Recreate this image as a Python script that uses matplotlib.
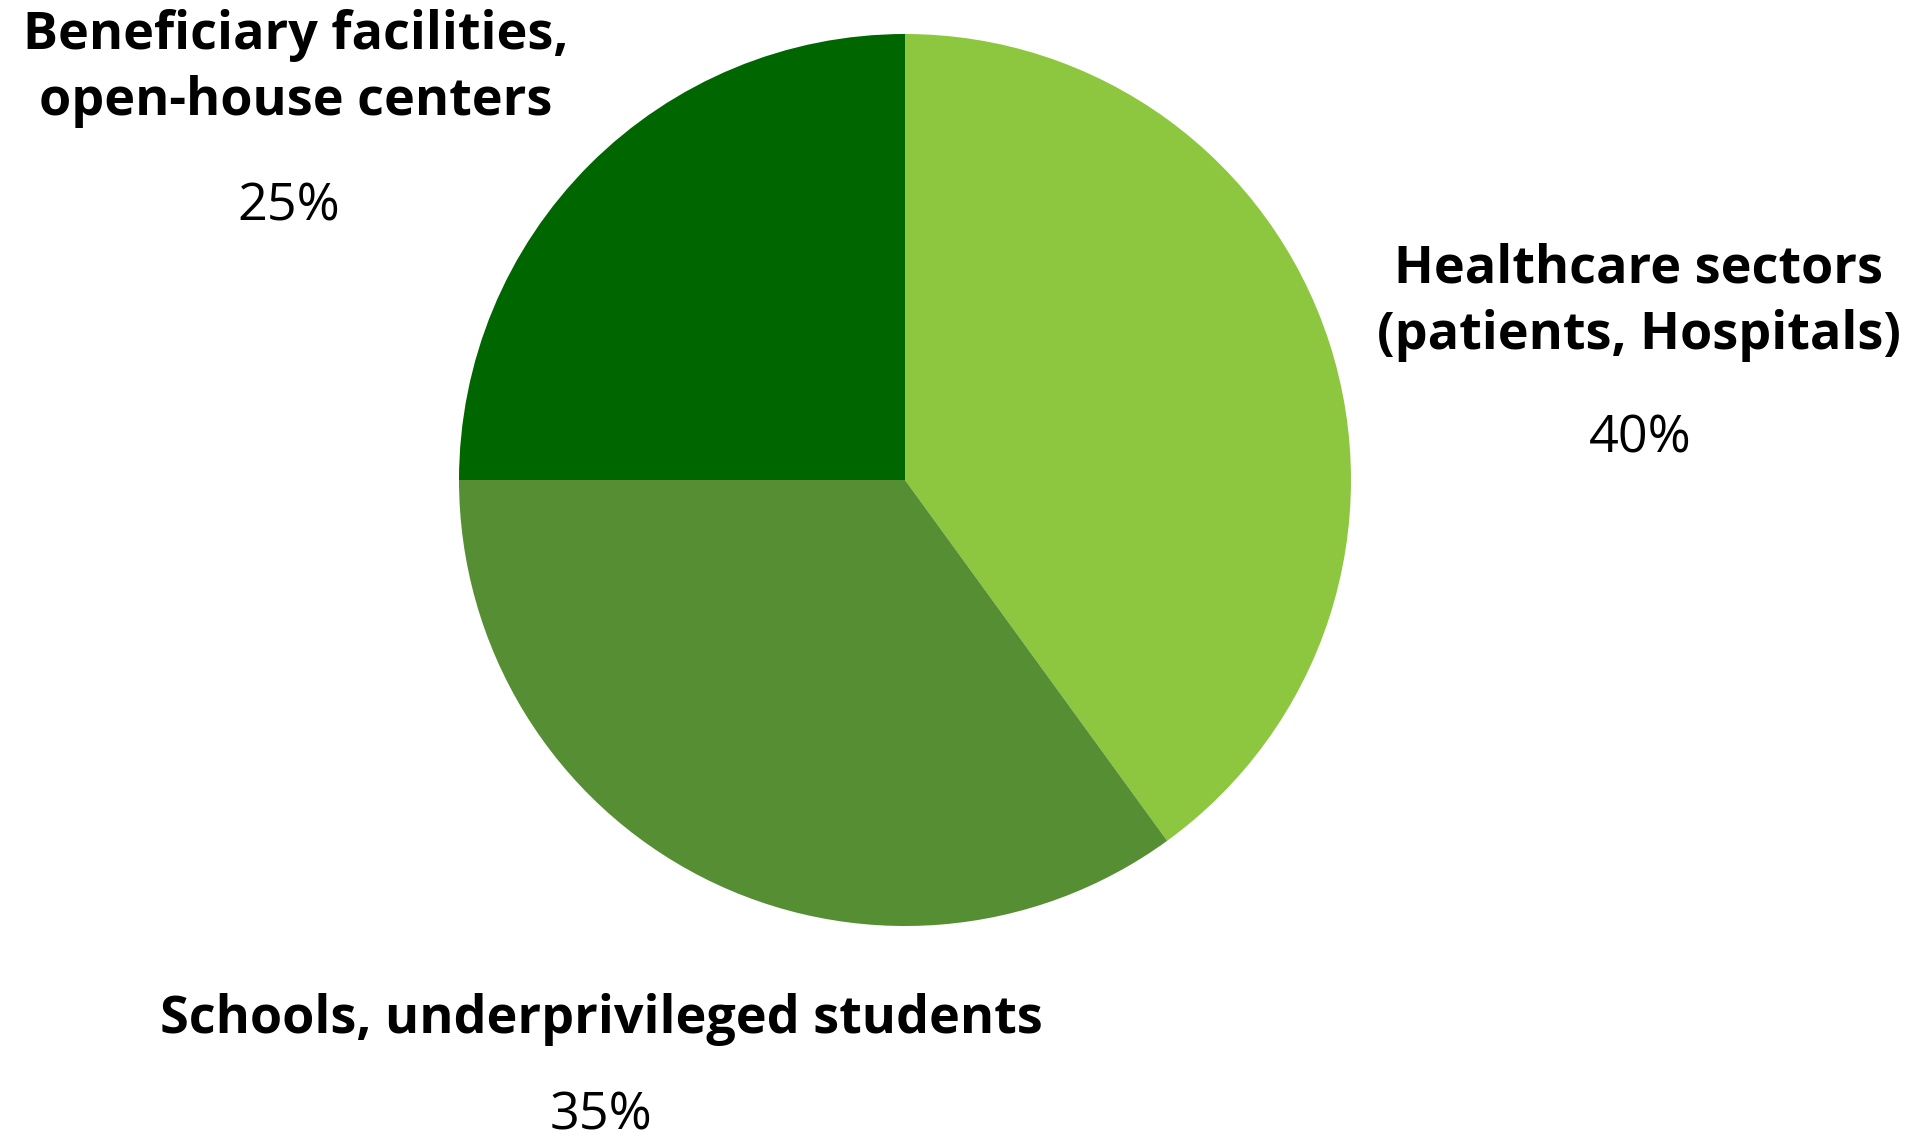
import matplotlib
matplotlib.use("Agg")
import matplotlib.pyplot as plt

# --------------------------------------------------
# DATA
# --------------------------------------------------

sectors = [
    "Healthcare sectors\n(patients, Hospitals)",
    "Schools, underprivileged students",
    "Beneficiary facilities,\nopen-house centers",
]
shares = [40, 35, 25]
colors = ["#8dc63f", "#568e34", "#006600"]

# label anchor (in pie-radius units) for each sector: name, then percentage
name_pos = [(1.645, 0.398), (-0.680, -1.210), (-1.366, 0.922)]
pct_pos = [(1.648, 0.091), (-0.682, -1.426), (-1.381, 0.611)]

plt.rcParams["font.family"] = ["Open Sans", "DejaVu Sans"]

W, H = 1913, 1138
fig = plt.figure(figsize=(W / 100, H / 100), dpi=100)

# pie axes: a square box 892 px wide, centred at (905, 480) from the top-left
cx, cy, r = 905, 480, 446
ax = fig.add_axes([(cx - r) / W, (H - cy - r) / H, 2 * r / W, 2 * r / H])

ax.pie(shares, colors=colors, startangle=90, counterclock=False,
       radius=1, wedgeprops={"linewidth": 0})
ax.set_xlim(-1, 1)
ax.set_ylim(-1, 1)
ax.set_aspect("equal")
ax.axis("off")

total = sum(shares)
for name, val, (nx, ny), (px, py) in zip(sectors, shares, name_pos, pct_pos):
    ax.text(nx, ny, name, ha="center", va="center", fontsize=37.5,
            fontweight="bold", linespacing=1.33, clip_on=False)
    ax.text(px, py, f"{val / total * 100:.0f}%", ha="center", va="center",
            fontsize=37.5, clip_on=False)

fig.savefig("out.png", dpi=100)
